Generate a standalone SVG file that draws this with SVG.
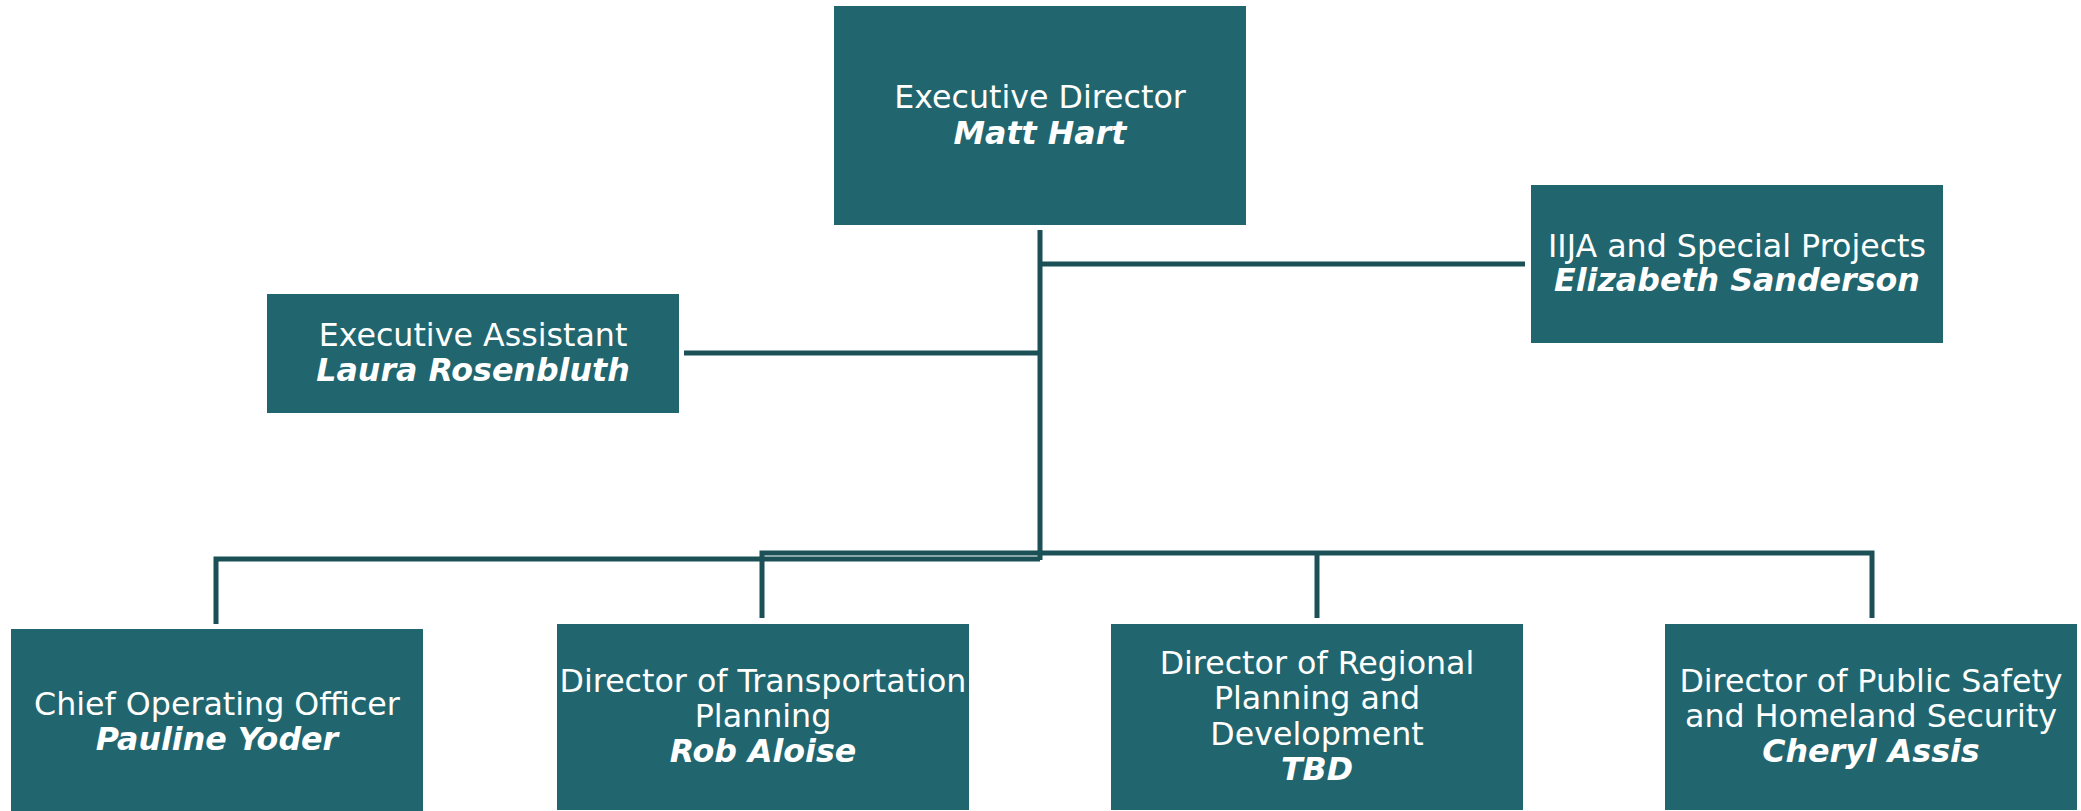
<svg xmlns="http://www.w3.org/2000/svg" width="2081" height="811" viewBox="0 0 2081 811">
<style>
.box{fill:#21666E;}
.t{font-family:"DejaVu Sans","Verdana",sans-serif;font-size:31.7px;fill:#FFFFFF;text-anchor:middle;}
.n{font-weight:bold;font-style:italic;}
.c{fill:none;stroke:#1B5057;stroke-width:5;stroke-linecap:butt;stroke-linejoin:miter;}
</style>
<rect x="0" y="0" width="2081" height="811" fill="#FFFFFF"/>
<g id="connectors">
<path class="c" d="M1040 230 V560"/>
<path class="c" d="M1040 264 H1525"/>
<path class="c" d="M684 353 H1040"/>
<path class="c" d="M216 624 V559 H1040"/>
<path class="c" d="M762 618 V553 H1872 V618"/>
<path class="c" d="M1317 553 V618"/>
</g>
<g id="executive-director">
<rect class="box" x="834" y="6" width="412" height="219"/>
<text class="t" x="1040" y="108">Executive Director</text>
<text class="t n" x="1040" y="144">Matt Hart</text>
</g>
<g id="iija">
<rect class="box" x="1531" y="185" width="412" height="158"/>
<text class="t" x="1737" y="257">IIJA and Special Projects</text>
<text class="t n" x="1737" y="291">Elizabeth Sanderson</text>
</g>
<g id="executive-assistant">
<rect class="box" x="267" y="294" width="412" height="119"/>
<text class="t" x="473" y="346">Executive Assistant</text>
<text class="t n" x="473" y="381">Laura Rosenbluth</text>
</g>
<g id="coo">
<rect class="box" x="11" y="629" width="412" height="182"/>
<text class="t" x="217" y="715">Chief Operating Officer</text>
<text class="t n" x="217" y="750">Pauline Yoder</text>
</g>
<g id="transportation">
<rect class="box" x="557" y="624" width="412" height="186"/>
<text class="t" x="763" y="692">Director of Transportation</text>
<text class="t" x="763" y="727">Planning</text>
<text class="t n" x="763" y="762">Rob Aloise</text>
</g>
<g id="regional">
<rect class="box" x="1111" y="624" width="412" height="186"/>
<text class="t" x="1317" y="674">Director of Regional</text>
<text class="t" x="1317" y="709">Planning and</text>
<text class="t" x="1317" y="745">Development</text>
<text class="t n" x="1317" y="780">TBD</text>
</g>
<g id="public-safety">
<rect class="box" x="1665" y="624" width="412" height="186"/>
<text class="t" x="1871" y="692">Director of Public Safety</text>
<text class="t" x="1871" y="727">and Homeland Security</text>
<text class="t n" x="1871" y="762">Cheryl Assis</text>
</g>
</svg>
